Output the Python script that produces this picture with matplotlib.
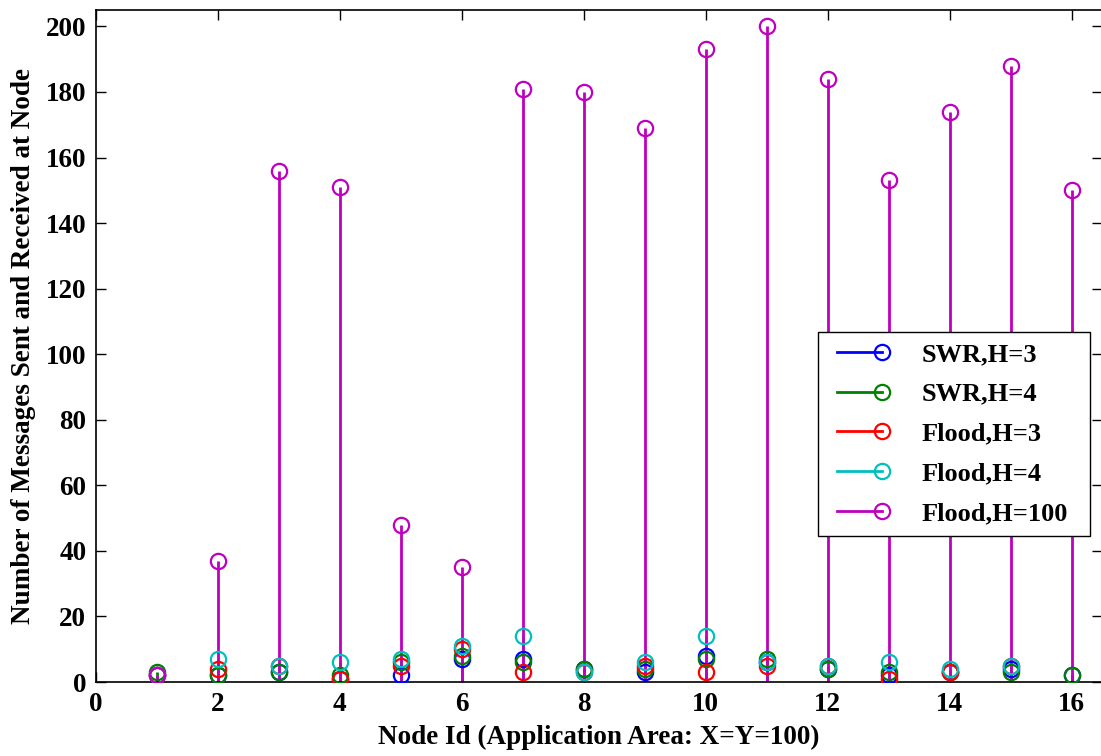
import numpy as np
import matplotlib
matplotlib.use("Agg")
import matplotlib.pyplot as plt
from matplotlib.lines import Line2D

# node ids and message counts
nodes = np.arange(1, 17)
swr_h3 = [2, 2, 3, 1, 2, 7, 7, 4, 3, 8, 6, 4, 2, 3, 4, 2]
swr_h4 = [3, 2, 3, 2, 6, 8, 6, 4, 4, 7, 7, 4, 3, 3, 3, 2]
flood_h3 = [2, 4, 5, 1, 5, 10, 3, 3, 5, 3, 5, 5, 1, 3, 5, np.nan]
flood_h4 = [2, 7, 5, 6, 7, 11, 14, 3, 6, 14, 6, 5, 6, 4, 5, np.nan]
flood_h100 = [2, 37, 156, 151, 48, 35, 181, 180, 169, 193, 200, 184, 153, 174, 188, 150]

series = [swr_h3, swr_h4, flood_h3, flood_h4, flood_h100]
labels = ["SWR,H=3", "SWR,H=4", "Flood,H=3", "Flood,H=4", "Flood,H=100"]
colors = ["#0000ff", "#008000", "#ff0000", "#00bfbf", "#bf00bf"]

plt.rcParams['font.family'] = ['Liberation Serif', 'DejaVu Serif']
plt.rcParams['font.weight'] = 'bold'

fig = plt.figure(figsize=(11.01, 7.56), dpi=100)
ax = fig.add_axes([96 / 1101, 1 - 682 / 756, 1006 / 1101, 672 / 756])

handles = []
for vals, lab, col in zip(series, labels, colors):
    vals = np.asarray(vals, dtype=float)
    ok = ~np.isnan(vals)
    ax.vlines(nodes[ok], 0, vals[ok], color=col, lw=2.0, zorder=2)
    ax.plot(nodes[ok], vals[ok], 'o', mfc='none', mec=col, mew=1.6, ms=11, zorder=3)
    handles.append(Line2D([0, 1], [0, 0], color=col, lw=2.0, marker='o', mfc='none',
                          mec=col, mew=1.6, ms=11))

ax.set_xlim(0, 16.5)
ax.set_ylim(0, 205)
ax.set_xticks(np.arange(0, 17, 2))
ax.set_yticks(np.arange(0, 201, 20))
ax.tick_params(direction='in', length=7, width=1, top=True, right=True,
               labelsize=19.5, pad=7)
for lab in ax.get_xticklabels() + ax.get_yticklabels():
    lab.set_fontweight('bold')
for sp in ax.spines.values():
    sp.set_linewidth(1.2)

ax.set_xlabel("Node Id (Application Area: X=Y=100)", fontsize=19.5, fontweight='bold', labelpad=6)
ax.set_ylabel("Number of Messages Sent and Received at Node", fontsize=19.5, fontweight='bold', labelpad=7)

leg = ax.legend(handles, labels, loc='upper left', bbox_to_anchor=(0.718, 0.521, 0.27, 0.0),
                mode='expand', numpoints=2, handlelength=2.3, handletextpad=1.2,
                prop={'weight': 'bold', 'size': 19}, fancybox=False,
                framealpha=1, edgecolor='black', borderaxespad=0, labelspacing=0.62,
                borderpad=0.4)
leg.get_frame().set_linewidth(1.0)
# marker only at the right end of each legend line, as in the original
for ln in leg.get_lines():
    ln.set_markevery([1])

fig.savefig("out.png", dpi=100)
